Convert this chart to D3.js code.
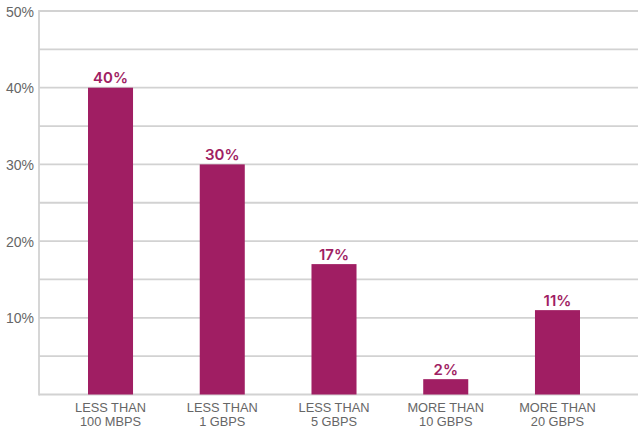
<!DOCTYPE html>
<html>
<head>
<meta charset="utf-8">
<script src="https://cdn.jsdelivr.net/npm/d3@7"></script>
<style>
  html, body { margin: 0; padding: 0; background: #ffffff; }
  svg { display: block; }
</style>
</head>
<body>
<svg id="chart" width="638" height="430"></svg>
<script>
// Share of respondents by connection speed
const categories = [
  ["LESS THAN", "100 MBPS"],
  ["LESS THAN", "1 GBPS"],
  ["LESS THAN", "5 GBPS"],
  ["MORE THAN", "10 GBPS"],
  ["MORE THAN", "20 GBPS"]
];
const shares = [40, 30, 17, 2, 11];
const gridTicks = [5, 10, 15, 20, 25, 30, 35, 40, 45, 50];
const labelTicks = [10, 20, 30, 40, 50];

const svg = d3.select("#chart");
const plotLeft = 39, plotRight = 638, plotTop = 11, plotBottom = 394.5;

const y = d3.scaleLinear().domain([0, 50]).range([plotBottom, plotTop]);
const x = d3.scaleBand()
  .domain(d3.range(categories.length))
  .range([plotLeft, 629])
  .paddingInner(0.597)
  .paddingOuter(0.4385);

const barColor = "#a01e63";
const gridColor = "#d2d2d2";
const textGray = "#666666";

// horizontal gridlines
svg.append("g")
  .selectAll("line")
  .data(gridTicks)
  .join("line")
  .attr("x1", plotLeft)
  .attr("x2", plotRight)
  .attr("y1", d => y(d))
  .attr("y2", d => y(d))
  .attr("stroke", gridColor)
  .attr("stroke-width", 1.8);

// y axis labels
const yAxis = d3.axisLeft(y)
  .tickValues(labelTicks)
  .tickFormat(d => d + "%")
  .tickSize(0)
  .tickPadding(5);
const yg = svg.append("g")
  .attr("transform", `translate(${plotLeft},0)`)
  .call(yAxis);
yg.select(".domain").remove();
yg.selectAll("text")
  .attr("fill", textGray)
  .attr("dy", "0.36em")
  .style("font-family", "'Liberation Sans', Arial, sans-serif")
  .style("font-size", "14px");

// vertical axis line and baseline
svg.append("line")
  .attr("x1", plotLeft).attr("x2", plotLeft)
  .attr("y1", plotTop - 1).attr("y2", plotBottom + 1)
  .attr("stroke", gridColor).attr("stroke-width", 1.8);
svg.append("line")
  .attr("x1", plotLeft).attr("x2", plotRight)
  .attr("y1", y(0)).attr("y2", y(0))
  .attr("stroke", gridColor).attr("stroke-width", 1.8);

// bars
svg.append("g")
  .selectAll("rect")
  .data(shares)
  .join("rect")
  .attr("x", (d, i) => x(i))
  .attr("width", x.bandwidth())
  .attr("y", d => y(d))
  .attr("height", d => y(0) - y(d))
  .attr("fill", barColor);

// value labels
svg.append("g")
  .selectAll("text")
  .data(shares)
  .join("text")
  .attr("x", (d, i) => x(i) + x.bandwidth() / 2)
  .attr("y", d => y(d) - 4.5)
  .attr("text-anchor", "middle")
  .attr("fill", barColor)
  .style("font-family", "Inter, 'Open Sans', sans-serif")
  .style("font-weight", "600")
  .style("font-size", "15px")
  .text(d => d + "%");

// category labels
const xg = svg.append("g")
  .selectAll("text")
  .data(categories)
  .join("text")
  .attr("x", (d, i) => x(i) + x.bandwidth() / 2)
  .attr("y", 411.5)
  .attr("text-anchor", "middle")
  .attr("fill", textGray)
  .style("font-family", "'Liberation Sans', Arial, sans-serif")
  .style("font-size", "12.8px");
xg.selectAll("tspan")
  .data(d => d)
  .join("tspan")
  .attr("x", function () { return d3.select(this.parentNode).attr("x"); })
  .attr("dy", (d, i) => i === 0 ? 0 : 14)
  .text(d => d);
</script>
</body>
</html>
